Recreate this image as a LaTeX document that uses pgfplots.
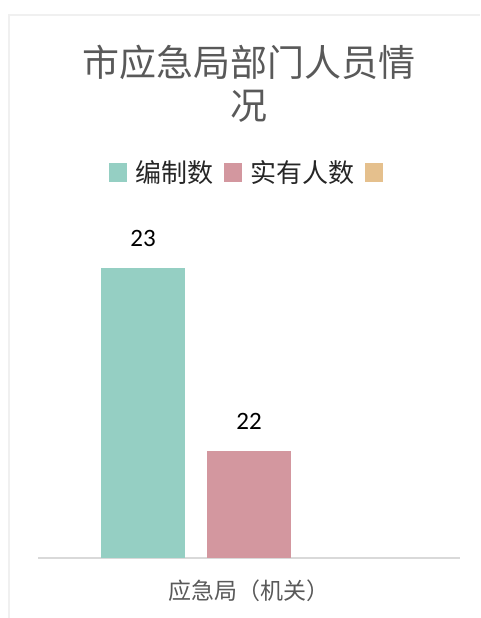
\documentclass[border=0pt]{standalone}
\usepackage{fontspec}
\usepackage{pgfplots}
\pgfplotsset{compat=1.18}
\setmainfont{Noto Sans CJK SC}
\newfontfamily\numfont{Carlito}
\definecolor{cA}{HTML}{95CFC3}
\definecolor{cB}{HTML}{D3979F}
\definecolor{cC}{HTML}{E5C08D}
\definecolor{txt}{HTML}{595959}
\definecolor{axl}{HTML}{D9D9D9}
\definecolor{frame}{HTML}{F0F0F0}
\pgfplotsset{sqlegend/.style={legend image code/.code={\fill[##1] (0pt,-9.5pt) rectangle (18pt,9.5pt);}}}
\begin{document}
\begin{tikzpicture}[x=1pt,y=1pt]
\useasboundingbox (0,0) rectangle (480,618);
\draw[color=frame, line width=2pt] (9,0) -- (9,603) -- (480,603);
\node[text=txt, font=\fontsize{37}{43}\selectfont, align=center, inner sep=0pt] at (249,534) {市应急局部门人员情\\况};
\begin{axis}[
  at={(38pt,60pt)}, anchor=south west,
  scale only axis, width=422pt, height=381.6pt,
  ymin=21.415, ymax=23.5,
  xmin=-0.5, xmax=0.5,
  ybar, bar width=84pt,
  hide y axis,
  axis x line*=bottom,
  x axis line style={-, draw=axl, line width=2pt},
  xtick={0}, xticklabels={应急局（机关）},
  xtick style={draw=none},
  xticklabel style={text=txt, font=\fontsize{23}{26}\selectfont, yshift=-14pt},
  /pgf/number format/assume math mode=true,
  nodes near coords,
  every node near coord/.append style={font=\numfont\fontsize{25}{28}\selectfont, text=black, inner sep=0pt, anchor=south, yshift=21pt},
  legend columns=-1,
  legend style={draw=none, fill=none, at={(0.505,1.0115)}, anchor=center,
    font=\fontsize{26}{28}\selectfont, text=black!85,
    nodes={inner xsep=0pt},
    /tikz/every odd column/.append style={column sep=8.5pt},
    /tikz/every even column/.append style={column sep=10.5pt}},
  sqlegend,
]
\addplot[fill=cA, draw=none, bar shift=-106pt] coordinates {(0,23)};
\addlegendentry{编制数}
\addplot[fill=cB, draw=none, bar shift=0pt] coordinates {(0,22)};
\addlegendentry{实有人数}
\addlegendimage{fill=cC, draw=none}
\addlegendentry{}
\end{axis}
\end{tikzpicture}
\end{document}
